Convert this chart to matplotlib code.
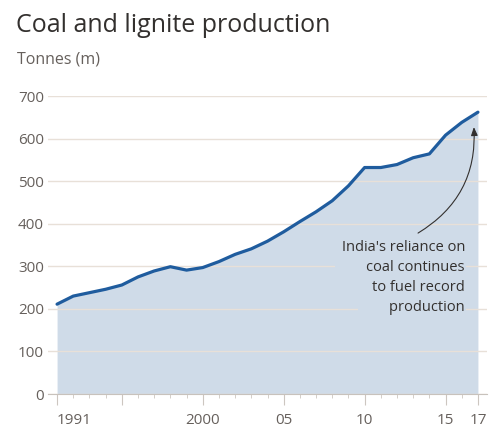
import numpy as np
import matplotlib
matplotlib.use("Agg")
import matplotlib.pyplot as plt

# coal and lignite production, India, million tonnes
years = list(range(1991, 2018))
production = [211, 230, 238, 246, 256, 275, 289, 299, 291, 297,
              311, 328, 341, 359, 381, 405, 428, 454, 489, 532,
              532, 539, 555, 564, 608, 638, 662]

y_ticks = [0, 100, 200, 300, 400, 500, 600, 700]
x_major = [1991, 1995, 2000, 2005, 2010, 2015, 2017]
x_labels = ["1991", "", "2000", "05", "10", "15", "17"]
note_lines = ["India's reliance on", "coal continues", "to fuel record", "production"]

plt.rcParams['font.family'] = ['Open Sans', 'DejaVu Sans']

LINE = '#1f5c9e'
FILL = '#cfdbe8'
GRID = '#e8e0d8'
TXT = '#66605c'

fig = plt.figure(figsize=(4.96, 4.28), dpi=100)
ax = fig.add_axes([48 / 496, 34 / 428, (487 - 48) / 496, (394 - 96) / 428])

ax.fill_between(years, production, 0, color=FILL, lw=0, zorder=1)
ax.plot(years, production, color=LINE, lw=2.3, zorder=3, solid_capstyle='round')

ax.set_xlim(1990.44, 2017.56)
ax.set_ylim(0, 700)
ax.set_yticks(y_ticks)
ax.grid(axis='y', color=GRID, lw=1, zorder=1.5)
ax.set_axisbelow('line')

for s in ['top', 'right', 'left']:
    ax.spines[s].set_visible(False)
ax.spines['bottom'].set_color('#c8c2bc')
ax.spines['bottom'].set_zorder(4)

ax.tick_params(axis='y', length=0, pad=3, labelsize=11, labelcolor=TXT)
ax.set_xticks(x_major)
ax.set_xticklabels(x_labels)
ax.set_xticks(years, minor=True)
ax.tick_params(axis='x', which='major', length=8, color='#ccc6c0', pad=6,
               labelsize=11, labelcolor=TXT)
ax.tick_params(axis='x', which='minor', length=3, color='#ccc6c0')
ax.get_xticklabels()[0].set_horizontalalignment('left')

# note, one text per line so each masks the gridline behind it
note_y = [343, 296, 249, 204]
for line, yy in zip(note_lines, note_y):
    ax.text(2016.2, yy, "        " + line, ha='right', va='center', fontsize=10.5,
            color='#33302e', zorder=2,
            bbox=dict(boxstyle='square,pad=0.1', fc=FILL, ec='none'))

ax.annotate("", xy=(2016.75, 627), xytext=(2013.3, 378),
            arrowprops=dict(arrowstyle='-|>,head_length=0.5,head_width=0.2',
                            color='#33302e', lw=0.8,
                            connectionstyle='arc3,rad=0.3',
                            shrinkA=0, shrinkB=0),
            zorder=5)

fig.text(16 / 496, 1 - 32 / 428, "Coal and lignite production", fontsize=18,
         color='#33302e', ha='left', va='baseline')
fig.text(17 / 496, 1 - 63 / 428, "Tonnes (m)", fontsize=11.5, color=TXT,
         ha='left', va='baseline')

fig.savefig("out.png", dpi=100, facecolor='white')
